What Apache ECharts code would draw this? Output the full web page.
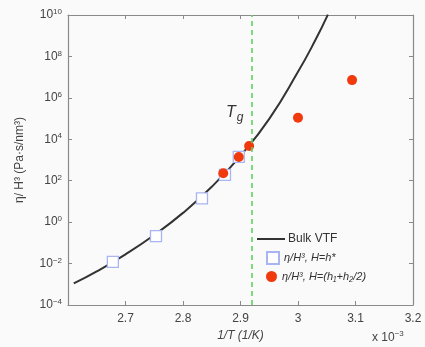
<!DOCTYPE html>
<html><head><meta charset="utf-8">
<script src="https://cdn.jsdelivr.net/npm/echarts@6/dist/echarts.min.js"></script>
<style>html,body{margin:0;padding:0;background:#f9faf9}#c{width:425px;height:347px}</style>
</head><body><div id="c"></div>
<script>
// 1/T values in units of 1e-3 1/K
var curveX = [2.61, 2.65, 2.70, 2.75, 2.80, 2.85, 2.90, 2.95, 3.00, 3.03, 3.052];
var curveY = [1.1e-3, 4.2e-3, 2.8e-2, 0.24, 2.8, 51, 1.6e3, 9.6e4, 1.8e7, 6e8, 1.05e10];
var squareX = [2.678, 2.753, 2.833, 2.873, 2.897];
var squareY = [1.2e-2, 0.21, 14, 1.9e2, 1.4e3];
var dotX = [2.870, 2.897, 2.915, 3.000, 3.094];
var dotY = [2.3e2, 1.4e3, 4.7e3, 1.1e5, 7.2e6];
var tgX = 2.915;
var xTicks = [2.6, 2.7, 2.8, 2.9, 3.0, 3.1, 3.2];
var yExpTicks = [-4, -2, 0, 2, 4, 6, 8, 10];

function zip(a, b) { return a.map(function (v, i) { return [v, b[i]]; }); }
var FONT = 'Liberation Sans';
var AX = '#8a8a8a';
var chart = echarts.init(document.getElementById('c'));
var axCommon = {
  axisLine: { show: true, lineStyle: { color: AX, width: 1.2 } },
  axisTick: { show: true, inside: true, length: 4, lineStyle: { color: AX } },
  splitLine: { show: false }
};
chart.setOption({
  backgroundColor: '#f9faf9',
  animation: false,
  grid: { left: 68, right: 12, top: 15, bottom: 42 },
  xAxis: [
    Object.assign({
      type: 'value', min: xTicks[0], max: xTicks[xTicks.length - 1], interval: 0.1,
      position: 'bottom',
      axisLabel: { fontFamily: FONT, fontSize: 12, color: '#444', margin: 8,
        formatter: function (v) { return Math.abs(v - xTicks[0]) < 1e-9 ? '' : String(+v.toFixed(1)); } },
      name: '1/T (1/K)', nameLocation: 'middle', nameGap: 21,
      nameTextStyle: { fontFamily: FONT, fontSize: 12, fontStyle: 'italic', color: '#444' }
    }, axCommon),
    Object.assign({
      type: 'value', min: xTicks[0], max: xTicks[xTicks.length - 1], interval: 0.1,
      position: 'top', axisLabel: { show: false }
    }, axCommon)
  ],
  yAxis: [
    Object.assign({
      type: 'log', logBase: 10, min: Math.pow(10, yExpTicks[0]), max: Math.pow(10, yExpTicks[yExpTicks.length - 1]),
      interval: 2, position: 'left',
      axisLabel: { fontFamily: FONT, fontSize: 12, color: '#444', margin: 6,
        formatter: function (v) { var e = Math.round(Math.log10(v)); return '10{s|' + (e < 0 ? '\u2212' + (-e) : e) + '}'; },
        rich: { s: { fontFamily: FONT, fontSize: 8, color: '#444', verticalAlign: 'top', padding: [0, 0, 6, 0] } } },
      name: '\u03b7/ H\u00b3 (Pa\u00b7s/nm\u00b3)', nameLocation: 'middle', nameGap: 42,
      nameTextStyle: { fontFamily: FONT, fontSize: 12, color: '#444' }
    }, axCommon),
    Object.assign({
      type: 'log', logBase: 10, min: Math.pow(10, yExpTicks[0]), max: Math.pow(10, yExpTicks[yExpTicks.length - 1]),
      interval: 2, position: 'right', axisLabel: { show: false }
    }, axCommon)
  ],
  legend: [
    { data: [{ name: 'Bulk VTF', icon: 'rect' }], left: 252, top: 228, orient: 'vertical', itemWidth: 28, itemHeight: 2, itemGap: 4,
      itemStyle: { color: '#333' },
      textStyle: { fontFamily: FONT, fontSize: 12, color: '#333', padding: [0, 0, 0, -2] } },
    { data: ['sq'], left: 261, top: 246, itemWidth: 12, itemHeight: 12, itemGap: 12,
      formatter: function () { return '\u03b7/H\u00b3, H=h*'; },
      textStyle: { fontFamily: FONT, fontSize: 11, fontStyle: 'italic', color: '#333', padding: [0, 0, 0, 0] } },
    { data: ['dot'], left: 261, top: 266, itemWidth: 11, itemHeight: 11, itemGap: 12,
      formatter: function () { return '\u03b7/H\u00b3, H=(h\u2081+h\u2082/2)'; },
      textStyle: { fontFamily: FONT, fontSize: 11, fontStyle: 'italic', color: '#333', padding: [0, 0, 10, 0] } }
  ],
  series: [
    { name: 'Bulk VTF', type: 'line', data: zip(curveX, curveY), smooth: true, symbol: 'none',
      lineStyle: { color: '#333', width: 2 }, itemStyle: { color: '#333' }, z: 2,
      markLine: { silent: true, symbol: 'none', label: { show: false },
        lineStyle: { color: '#5ed45e', type: [5, 4], width: 1.6 },
        data: [{ xAxis: tgX }] } },
    { name: 'sq', type: 'scatter', data: zip(squareX, squareY), symbol: 'rect', symbolSize: 11,
      itemStyle: { color: '#ffffff', borderColor: '#a9b5f2', borderWidth: 1.3, opacity: 1 }, z: 3 },
    { name: 'dot', type: 'scatter', data: zip(dotX, dotY), symbol: 'circle', symbolSize: 10,
      itemStyle: { color: '#f03a0e', opacity: 1 }, z: 4 }
  ],
  graphic: [
    { type: 'text', left: 226, top: 105, z: 10,
      style: { text: 'T{g|g}', fill: '#333', font: 'italic 16px "Liberation Sans"',
        rich: { g: { fontFamily: FONT, fontStyle: 'italic', fontSize: 12, fill: '#333', padding: [10, 0, 0, 1] } } } },
    { type: 'text', left: 372, top: 330, z: 10,
      style: { text: 'x 10{s|\u22123}', fill: '#444', font: '12px "Liberation Sans"',
        rich: { s: { fontFamily: FONT, fontSize: 8, fill: '#444', padding: [0, 0, 8, 0] } } } }
  ]
});
</script></body></html>
